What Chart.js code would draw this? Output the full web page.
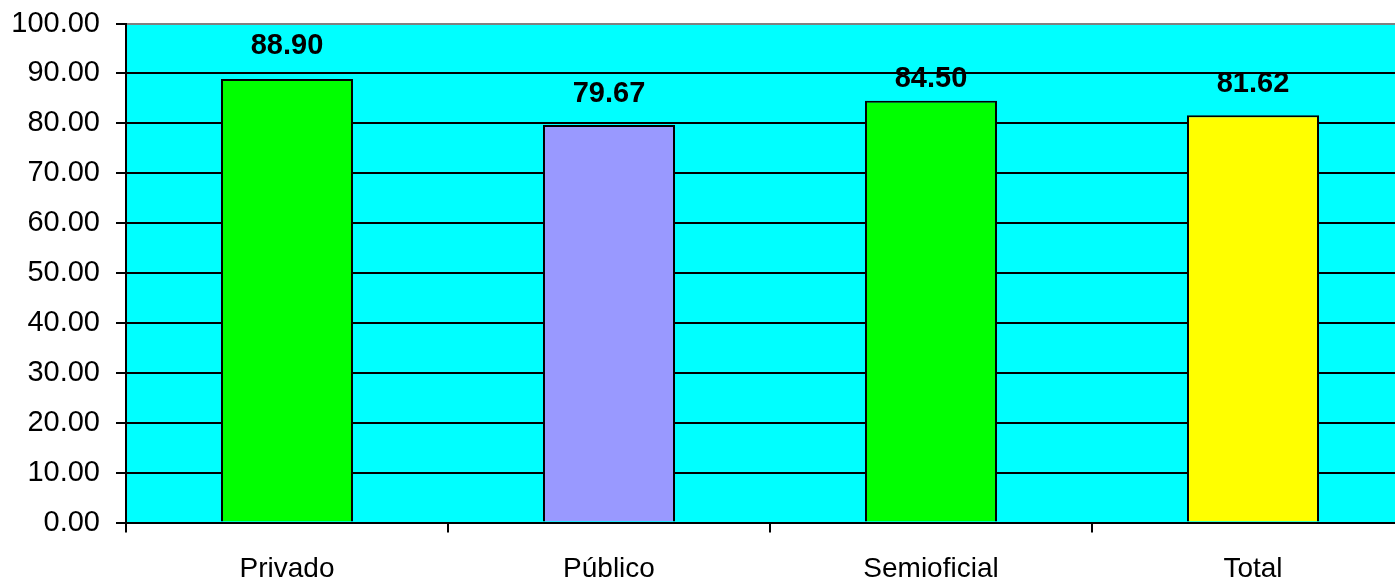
<!DOCTYPE html>
<html>
<head>
<meta charset="utf-8">
<script src="https://cdn.jsdelivr.net/npm/chart.js@4.4.1/dist/chart.umd.min.js"></script>
<style>
  html, body { margin: 0; padding: 0; background: #ffffff; overflow: hidden; }
  #wrap { width: 1418px; height: 583px; position: relative; }
</style>
</head>
<body>
<div id="wrap"><canvas id="c"></canvas></div>
<script>
const categories = ['Privado', 'Público', 'Semioficial', 'Total'];
const values = [88.90, 79.67, 84.50, 81.62];
const barColors = ['#00FF00', '#9999FF', '#00FF00', '#FFFF00'];
const yTicks = [0, 10, 20, 30, 40, 50, 60, 70, 80, 90, 100];

const bgPlugin = {
  id: 'plotBg',
  beforeDraw(chart) {
    const { ctx, chartArea: a } = chart;
    ctx.save();
    ctx.fillStyle = '#00FFFF';
    ctx.fillRect(a.left, a.top, a.right - a.left, a.bottom - a.top);
    ctx.restore();
  }
};

const labelPlugin = {
  id: 'valueLabels',
  afterDatasetsDraw(chart, args, opts) {
    const { ctx } = chart;
    const meta = chart.getDatasetMeta(0);
    ctx.save();
    ctx.font = 'bold 29px "Liberation Sans", Arial, sans-serif';
    ctx.fillStyle = '#000';
    ctx.textAlign = 'center';
    ctx.textBaseline = 'middle';
    meta.data.forEach((bar, i) => {
      const off = opts.offsets[i];
      ctx.fillText(values[i].toFixed(2), bar.x, bar.y - off);
    });
    ctx.restore();
  }
};

new Chart(document.getElementById('c'), {
  type: 'bar',
  data: {
    labels: categories,
    datasets: [{
      data: values,
      backgroundColor: barColors,
      borderColor: '#000',
      borderWidth: 2,
      barPercentage: 0.41,
      categoryPercentage: 1.0
    }]
  },
  options: {
    responsive: true,
    maintainAspectRatio: false,
    animation: false,
    layout: { padding: { top: 23.5, right: 4, left: 0, bottom: 0 } },
    plugins: {
      legend: { display: false },
      tooltip: { enabled: false },
      valueLabels: { offsets: [33, 31, 22, 31] }
    },
    scales: {
      x: {
        offset: true,
        afterFit(scale) { scale.height = 60.5; scale.paddingLeft = 0; scale.paddingRight = 0; },
        grid: {
          offset: true,
          drawOnChartArea: false,
          drawTicks: true,
          tickLength: 10,
          color: '#000',
          lineWidth: 2
        },
        border: { color: '#000', width: 2 },
        ticks: {
          color: '#000',
          padding: 20,
          font: { family: '"Liberation Sans", Arial, sans-serif', size: 28 }
        }
      },
      y: {
        min: 0,
        max: 100,
        afterFit(scale) { scale.width = 126; scale.paddingTop = 0; scale.paddingBottom = 0; },
        afterBuildTicks(scale) { scale.ticks = yTicks.map(v => ({ value: v })); },
        grid: {
          color: (c) => (c.tick && c.tick.value === 100 ? '#808080' : '#000'),
          lineWidth: 2,
          drawTicks: true,
          tickLength: 10,
          tickColor: '#000'
        },
        border: { color: '#000', width: 2 },
        ticks: {
          color: '#000',
          padding: 16,
          font: { family: '"Liberation Sans", Arial, sans-serif', size: 29 },
          callback: (v) => Number(v).toFixed(2)
        }
      }
    }
  },
  plugins: [bgPlugin, labelPlugin]
});
</script>
</body>
</html>
